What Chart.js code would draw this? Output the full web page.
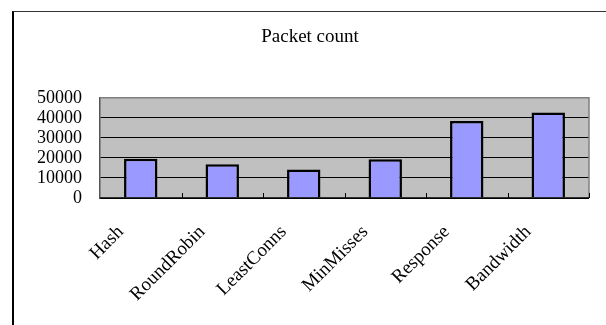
<!DOCTYPE html>
<html>
<head>
<meta charset="utf-8">
<script src="https://cdn.jsdelivr.net/npm/chart.js@4"></script>
<style>
  body { margin: 0; background: #fff; }
  #wrap { position: relative; width: 606px; height: 325px; }
  #frame {
    position: absolute; left: 12px; top: 11px; width: 600px; height: 330px;
    border-left: 2px solid #000; border-top: 1px solid #333;
  }
  canvas { position: absolute; left: 0; top: 0; }
</style>
</head>
<body>
<div id="wrap">
  <div id="frame"></div>
  <canvas id="packetChart" width="606" height="325"></canvas>
</div>
<script>
const categories = ["Hash", "RoundRobin", "LeastConns", "MinMisses", "Response", "Bandwidth"];
const packetCounts = [19600, 16800, 14200, 19300, 38400, 42700];
const yTicks = [0, 10000, 20000, 30000, 40000, 50000];

const serif = "'Liberation Serif', 'Times New Roman', serif";

// grey plot background + frame + little inner tick marks
const plotDecor = {
  id: "plotDecor",
  beforeDraw(chart) {
    const a = chart.chartArea;
    const ctx = chart.ctx;
    ctx.save();
    ctx.fillStyle = "#c0c0c0";
    ctx.fillRect(a.left, a.top, a.right - a.left, a.bottom - a.top);
    ctx.restore();
  },
  afterDraw(chart) {
    const a = chart.chartArea;
    const ctx = chart.ctx;
    const x = chart.scales.x;
    ctx.save();
    ctx.strokeStyle = "#808080";
    ctx.lineWidth = 1.5;
    ctx.beginPath();
    ctx.moveTo(a.left, a.top);
    ctx.lineTo(a.right, a.top);
    ctx.lineTo(a.right, a.bottom);
    ctx.stroke();
    ctx.strokeStyle = "#000";
    ctx.lineWidth = 1.5;
    ctx.beginPath();
    ctx.moveTo(a.left, a.bottom);
    ctx.lineTo(a.right, a.bottom);
    ctx.stroke();
    ctx.lineWidth = 1;
    for (let i = 1; i <= categories.length; i++) {
      const px = Math.round((x.getPixelForValue(i - 1) + x.getPixelForValue(i)) / 2) + 0.5;
      ctx.beginPath();
      ctx.moveTo(px, a.bottom);
      ctx.lineTo(px, a.bottom - 5);
      ctx.stroke();
    }
    ctx.restore();
  }
};

new Chart(document.getElementById("packetChart"), {
  type: "bar",
  data: {
    labels: categories,
    datasets: [{
      label: "Packet count",
      data: packetCounts,
      backgroundColor: "#9999ff",
      borderColor: "#000",
      borderWidth: 2.5,
      categoryPercentage: 1,
      barPercentage: 0.41
    }]
  },
  options: {
    responsive: false,
    animation: false,
    layout: { padding: { left: 31, right: 17, top: 0, bottom: 0 } },
    plugins: {
      legend: { display: false },
      tooltip: { enabled: false },
      title: {
        display: true,
        text: "Packet count",
        color: "#000",
        font: { family: serif, size: 19, weight: "normal" },
        padding: { top: 26, bottom: 49 }
      }
    },
    scales: {
      x: {
        grid: { display: false },
        border: { display: false },
        ticks: {
          color: "#000",
          font: { family: serif, size: 19 },
          minRotation: 45,
          maxRotation: 45,
          autoSkip: false,
          labelOffset: -20,
          padding: 15
        },
        afterFit(s) { s.height = 127; }
      },
      y: {
        min: 0,
        max: 50000,
        afterBuildTicks(s) { s.ticks = yTicks.map(v => ({ value: v })); },
        grid: {
          color: ctx => (ctx.tick && ctx.tick.value === 50000 ? "rgba(0,0,0,0)" : "#000"),
          lineWidth: 1,
          drawTicks: false
        },
        border: { display: true, color: "#555", width: 1.5 },
        ticks: {
          color: "#000",
          font: { family: serif, size: 18 },
          autoSkip: false,
          callback: v => String(v),
          padding: 18
        },
        afterFit(s) { s.width = 69; }
      }
    }
  },
  plugins: [plotDecor]
});
</script>
</body>
</html>
